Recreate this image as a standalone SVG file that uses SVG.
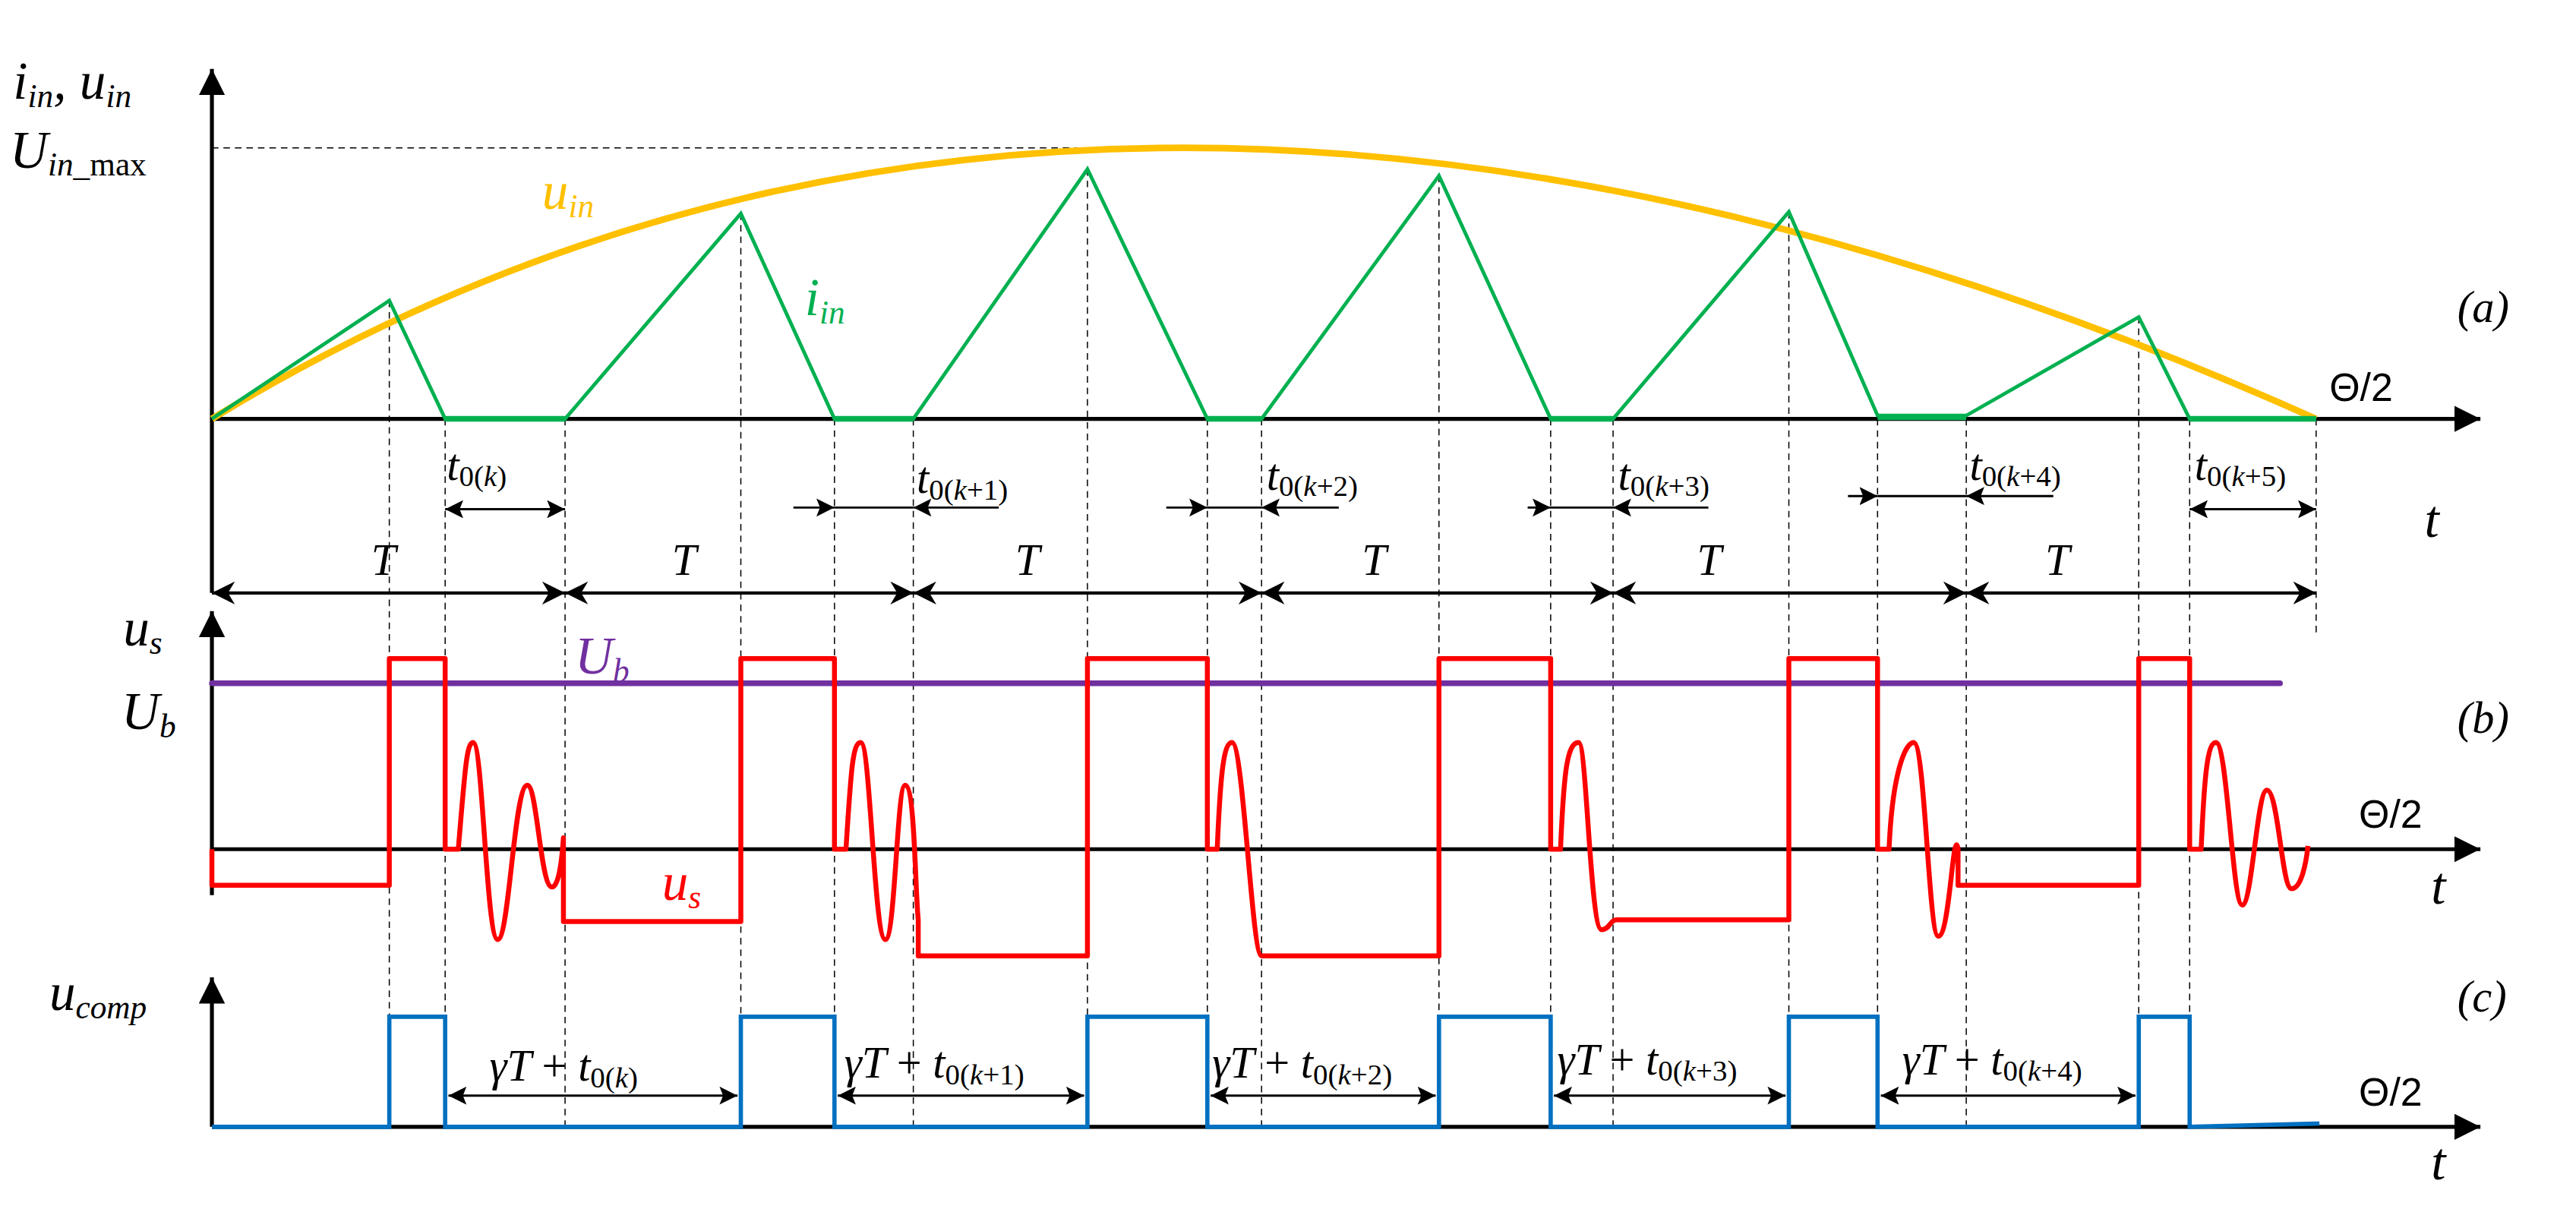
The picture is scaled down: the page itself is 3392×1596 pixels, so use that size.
<svg xmlns="http://www.w3.org/2000/svg" width="3392" height="1596" viewBox="0 0 3392 1596">
<style>
.ax{stroke:#000;stroke-width:2.4;fill:none}
.dash{stroke:#000;stroke-width:0.7;stroke-dasharray:4,3;fill:none}
.dim{stroke:#000;stroke-width:1.3;fill:none}
.tx{font-family:"Liberation Serif",serif;font-style:italic;font-size:32px;fill:#000}
.md{font-size:27px}
.up{font-family:"Liberation Sans",sans-serif;font-style:normal;font-size:24px;fill:#000}
.sub{font-size:20px}
.sm{font-size:18px}
</style>
<defs>
<marker id="ah" viewBox="0 0 10 10" refX="10" refY="5" markerWidth="16" markerHeight="16" markerUnits="userSpaceOnUse" orient="auto-start-reverse"><path d="M0,0 L10,5 L0,10 Z" fill="#000"/></marker>
<marker id="ta" viewBox="0 0 10 10" refX="10" refY="5" markerWidth="14" markerHeight="14" markerUnits="userSpaceOnUse" orient="auto-start-reverse"><path d="M0,0 L10,5 L0,10 L3,5 Z" fill="#000"/></marker>
<marker id="da" viewBox="0 0 10 10" refX="10" refY="5" markerWidth="11" markerHeight="11" markerUnits="userSpaceOnUse" orient="auto-start-reverse"><path d="M0,0 L10,5 L0,10 L2,5 Z" fill="#000"/></marker>
</defs>
<rect width="3392" height="1596" fill="#fff"/>
<g transform="scale(2.163)">
<g id="dashes">
<path class="dash" d="M129,90H710 M237,183V686 M271,255V686 M344,255V686 M451,130V686 M508,255V686 M556,255V686 M662,103V686 M735,255V686 M768,255V686 M876,107V686 M944,255V686 M982,255V686 M1089,129V686 M1143,255V686 M1197,255V686 M1302,193V686 M1333,255V686 M1410,255V388"/>
</g>
<g id="axes">
<path class="ax" d="M129,361V42" marker-end="url(#ah)"/>
<path class="ax" d="M129,255H1510" marker-end="url(#ah)"/>
<path class="ax" d="M129,545V372" marker-end="url(#ah)"/>
<path class="ax" d="M129,517H1510" marker-end="url(#ah)"/>
<path class="ax" d="M129,686V595" marker-end="url(#ah)"/>
<path class="ax" d="M129,686H1510" marker-end="url(#ah)"/>
</g>
<g id="connectors">
<path class="ax" style="stroke-width:2" d="M129,361H344" marker-start="url(#ta)" marker-end="url(#ta)"/>
<path class="ax" style="stroke-width:2" d="M344,361H556" marker-start="url(#ta)" marker-end="url(#ta)"/>
<path class="ax" style="stroke-width:2" d="M556,361H768" marker-start="url(#ta)" marker-end="url(#ta)"/>
<path class="ax" style="stroke-width:2" d="M768,361H982" marker-start="url(#ta)" marker-end="url(#ta)"/>
<path class="ax" style="stroke-width:2" d="M982,361H1197" marker-start="url(#ta)" marker-end="url(#ta)"/>
<path class="ax" style="stroke-width:2" d="M1197,361H1410" marker-start="url(#ta)" marker-end="url(#ta)"/>
<path class="dim" d="M271,310H344" marker-start="url(#da)" marker-end="url(#da)"/>
<path class="dim" d="M1333,310H1410" marker-start="url(#da)" marker-end="url(#da)"/>
<path class="dim" d="M483,309H508" marker-end="url(#da)"/><path class="dim" d="M608,309H556" marker-end="url(#da)"/>
<path class="dim" d="M710,309H735" marker-end="url(#da)"/><path class="dim" d="M815,309H768" marker-end="url(#da)"/>
<path class="dim" d="M930,309H944" marker-end="url(#da)"/><path class="dim" d="M1040,309H982" marker-end="url(#da)"/>
<path class="dim" d="M1125,302H1143" marker-end="url(#da)"/><path class="dim" d="M1250,302H1197" marker-end="url(#da)"/>
<path class="dim" d="M508,309H556 M735,309H768 M944,309H982 M1143,302H1197"/>
<path class="dim" d="M273,667H449" marker-start="url(#da)" marker-end="url(#da)"/>
<path class="dim" d="M510,667H660" marker-start="url(#da)" marker-end="url(#da)"/>
<path class="dim" d="M737,667H874" marker-start="url(#da)" marker-end="url(#da)"/>
<path class="dim" d="M946,667H1087" marker-start="url(#da)" marker-end="url(#da)"/>
<path class="dim" d="M1145,667H1300" marker-start="url(#da)" marker-end="url(#da)"/>
</g>
<g id="uin"><path d="M129,255 Q670.5,-75 1410,255" fill="none" stroke="#FFC000" stroke-width="4"/></g>
<g id="iin"><path d="M129,255L237,183L271,255H344L451,130L508,255H556L662,103L735,255H768L876,107L944,255H982L1089,129L1143,253H1197L1302,193L1333,255H1410" fill="none" stroke="#00B050" stroke-width="2.2"/>
<path d="M271,255H344M508,255H556M735,255H768M944,255H982M1143,254H1197M1333,255H1410" stroke="#00B050" stroke-width="3.5"/></g>
<g id="ub"><path d="M129,416H1388" stroke="#7030A0" stroke-width="3.5" stroke-linecap="round"/></g>
<g id="us"><path fill="none" stroke="#FF0000" stroke-width="3" stroke-linejoin="round" d="M129,517V539H237V401H271V517H279 C283,470 284,452 288,452 C294,452 296,572 303,572 C310,572 313,478 321,478 C327,478 329,540 336,540 C340,540 342,525 343,510 V561H451V401H508V517H515 C518,470 519,452 524,452 C530,452 532,572 539,572 C545,572 546,478 551,478 C557,478 557,540 559,560 V582H662V401H735V517H741 C743,470 745,452 750,452 C757,452 762,582 768,582 H876V401H944V517H950 C952,470 954,452 961,452 C966,452 968,566 975,566 C980,566 980,560 984,560 H1089V401H1143V517H1150 C1152,470 1160,452 1165,452 C1172,452 1174,570 1180,570 C1187,570 1189,500 1192,517 V539H1302V401H1333V517H1340 C1342,470 1344,452 1349,452 C1356,452 1359,551 1365,551 C1371,551 1374,481 1380,481 C1387,481 1389,541 1395,541 C1401,541 1404,525 1405,515"/></g>
<g id="ucomp"><path fill="none" stroke="#0070C0" stroke-width="2.6" d="M129,686H237V619H271V686H451V619H508V686H662V619H735V686H876V619H944V686H1089V619H1143V686H1302V619H1333V686L1412,684"/></g>
<g id="labels">
<text class="tx" x="8" y="60">i<tspan class="sub" dy="5">in</tspan><tspan dy="-5">, u</tspan><tspan class="sub" dy="5">in</tspan></text>
<text class="tx" x="6" y="102">U<tspan class="sub" dy="5">in</tspan><tspan class="sub" font-style="normal">_max</tspan></text>
<text class="tx" x="330" y="127" style="fill:#FFC000">u<tspan class="sub" dy="5">in</tspan></text>
<text class="tx" x="490" y="192" style="fill:#00B050">i<tspan class="sub" dy="5">in</tspan></text>
<text class="tx md" x="1496" y="196">(a)</text>
<text class="up" x="1418" y="244">Θ/2</text>
<text class="tx" x="1476" y="327">t</text>
<text class="tx md" x="272" y="292">t<tspan class="sm" dy="4" font-style="normal">0(</tspan><tspan class="sm">k</tspan><tspan class="sm" font-style="normal">)</tspan></text>
<text class="tx md" x="558" y="300">t<tspan class="sm" dy="4" font-style="normal">0(</tspan><tspan class="sm">k</tspan><tspan class="sm" font-style="normal">+1)</tspan></text>
<text class="tx md" x="771" y="298">t<tspan class="sm" dy="4" font-style="normal">0(</tspan><tspan class="sm">k</tspan><tspan class="sm" font-style="normal">+2)</tspan></text>
<text class="tx md" x="985" y="298">t<tspan class="sm" dy="4" font-style="normal">0(</tspan><tspan class="sm">k</tspan><tspan class="sm" font-style="normal">+3)</tspan></text>
<text class="tx md" x="1199" y="292">t<tspan class="sm" dy="4" font-style="normal">0(</tspan><tspan class="sm">k</tspan><tspan class="sm" font-style="normal">+4)</tspan></text>
<text class="tx md" x="1336" y="292">t<tspan class="sm" dy="4" font-style="normal">0(</tspan><tspan class="sm">k</tspan><tspan class="sm" font-style="normal">+5)</tspan></text>
<text class="tx md" x="226" y="350">T</text><text class="tx md" x="409" y="350">T</text><text class="tx md" x="618" y="350">T</text><text class="tx md" x="829" y="350">T</text><text class="tx md" x="1033" y="350">T</text><text class="tx md" x="1245" y="350">T</text>
<text class="tx" x="75" y="393">u<tspan class="sub" dy="5">s</tspan></text>
<text class="tx" x="74" y="444">U<tspan class="sub" dy="5">b</tspan></text>
<text class="tx" x="350" y="410" style="fill:#7030A0">U<tspan class="sub" dy="5">b</tspan></text>
<text class="tx" x="403" y="548" style="fill:#FF0000">u<tspan class="sub" dy="5">s</tspan></text>
<text class="tx md" x="1496" y="446">(b)</text>
<text class="up" x="1436" y="504">Θ/2</text>
<text class="tx" x="1480" y="550">t</text>
<text class="tx" x="30" y="615">u<tspan class="sub" dy="5">comp</tspan></text>
<text class="tx md" x="1496" y="616">(c)</text>
<text class="up" x="1436" y="673">Θ/2</text>
<text class="tx" x="1480" y="718">t</text>
<text class="tx md" x="298" y="658">γT <tspan font-style="normal">+</tspan> t<tspan class="sm" dy="4" font-style="normal">0(</tspan><tspan class="sm">k</tspan><tspan class="sm" font-style="normal">)</tspan></text>
<text class="tx md" x="514" y="656">γT <tspan font-style="normal">+</tspan> t<tspan class="sm" dy="4" font-style="normal">0(</tspan><tspan class="sm">k</tspan><tspan class="sm" font-style="normal">+1)</tspan></text>
<text class="tx md" x="738" y="656">γT <tspan font-style="normal">+</tspan> t<tspan class="sm" dy="4" font-style="normal">0(</tspan><tspan class="sm">k</tspan><tspan class="sm" font-style="normal">+2)</tspan></text>
<text class="tx md" x="948" y="654">γT <tspan font-style="normal">+</tspan> t<tspan class="sm" dy="4" font-style="normal">0(</tspan><tspan class="sm">k</tspan><tspan class="sm" font-style="normal">+3)</tspan></text>
<text class="tx md" x="1158" y="654">γT <tspan font-style="normal">+</tspan> t<tspan class="sm" dy="4" font-style="normal">0(</tspan><tspan class="sm">k</tspan><tspan class="sm" font-style="normal">+4)</tspan></text>
</g>
</g>
</svg>
